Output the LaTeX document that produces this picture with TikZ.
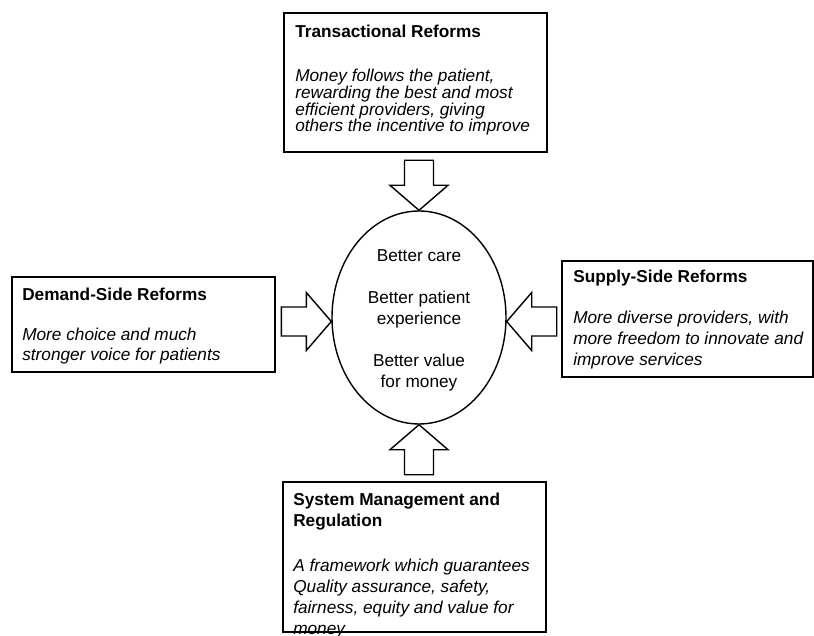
\documentclass[tikz,border=0pt]{standalone}
\usepackage{fontspec}
\setmainfont{Liberation Sans}
\usetikzlibrary{positioning, shapes.geometric}
\newcommand{\pxu}{0.025cm}

\begin{document}
\begin{tikzpicture}[
  x=0.025cm, y=-0.025cm,
  box/.style={rectangle, draw, line width=1.4pt, inner sep=0pt},
  head/.style={inner sep=0pt, align=left, font=\fontsize{12.25}{14.9}\selectfont\bfseries},
  body/.style={inner sep=0pt, align=left, font=\fontsize{12.25}{14.9}\selectfont\itshape},
  goal/.style={ellipse, draw, line width=1pt, inner sep=0pt},
  goaltext/.style={inner sep=0pt, align=center, font=\fontsize{12.25}{14.9}\selectfont},
  blockarrow/.pic={\draw[line width=1pt, line join=miter] (0,0) -- (25,-29) -- (25,-14.5) -- (50,-14.5) -- (50,14.5) -- (25,14.5) -- (25,29) -- cycle;}
]
\useasboundingbox (0,0) rectangle (814,636);

% centre
\node[goal, minimum width=174*\pxu, minimum height=213*\pxu] (goals) at (419,317.5) {};
\node[goaltext] (goals-text) at ([yshift=-3*\pxu]goals.center)
  {Better care\\[14.9pt]Better patient\\experience\\[14.9pt]Better value\\for money};

% the four reform boxes
\node[box, minimum width=263*\pxu, minimum height=139*\pxu] (transact) at (415.5,82.5) {};
\node[head, below right=12.5*\pxu and 12*\pxu of transact.north west] (transact-head) {Transactional Reforms};
\node[body, font=\fontsize{12.25}{12}\selectfont\itshape, below right=56.5*\pxu and 12*\pxu of transact.north west] (transact-body)
  {Money follows the patient,\\rewarding the best and most\\efficient providers, giving\\others the incentive to improve};

\node[box, minimum width=263*\pxu, minimum height=95*\pxu] (demand) at (143.5,324.5) {};
\node[head, below right=11.5*\pxu and 11*\pxu of demand.north west] (demand-head) {Demand-Side Reforms};
\node[body, font=\fontsize{12.25}{14.2}\selectfont\itshape, below right=51.5*\pxu and 11*\pxu of demand.north west] (demand-body)
  {More choice and much\\stronger voice for patients};

\node[box, minimum width=251*\pxu, minimum height=116*\pxu] (supply) at (687.5,319) {};
\node[head, below right=10*\pxu and 12*\pxu of supply.north west] (supply-head) {Supply-Side Reforms};
\node[body, below right=51*\pxu and 12*\pxu of supply.north west] (supply-body)
  {More diverse providers, with\\more freedom to innovate and\\improve services};

\node[box, minimum width=263*\pxu, minimum height=150*\pxu] (sysmgmt) at (414.5,557) {};
\node[head, below right=12*\pxu and 11*\pxu of sysmgmt.north west] (sysmgmt-head) {System Management and\\Regulation};
\node[body, below right=77.5*\pxu and 11*\pxu of sysmgmt.north west] (sysmgmt-body)
  {A framework which guarantees\\Quality assurance, safety,\\fairness, equity and value for\\money};

% block arrows into the centre
\pic[rotate=90] at (goals.north) {blockarrow};
\pic[rotate=180] at ([yshift=-4*\pxu]goals.west) {blockarrow};
\pic at ([yshift=-4*\pxu]goals.east) {blockarrow};
\pic[rotate=-90] at (goals.south) {blockarrow};
\end{tikzpicture}
\end{document}
